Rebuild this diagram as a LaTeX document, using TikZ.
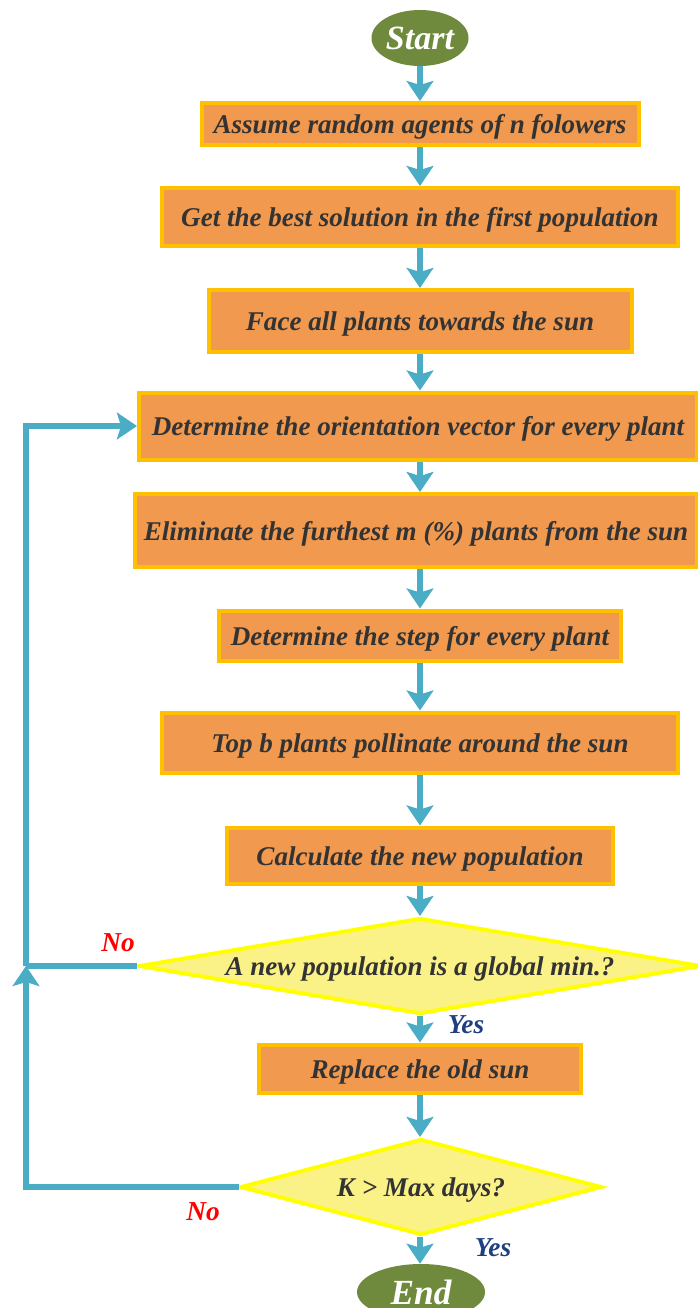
\documentclass[tikz,border=0pt]{standalone}
\usepackage{fontspec}
\setmainfont{Liberation Serif}
\usetikzlibrary{shapes.geometric,arrows.meta}
\definecolor{boxfill}{HTML}{F0994F}
\definecolor{boxline}{HTML}{FFC000}
\definecolor{dfill}{HTML}{FBF287}
\definecolor{dline}{HTML}{FFFF00}
\definecolor{arr}{HTML}{4BACC6}
\definecolor{olive}{HTML}{6F8A3C}
\definecolor{txt}{HTML}{333333}
\definecolor{yesc}{HTML}{1F3F7F}
\tikzset{
  px/.style={x=0.75pt,y=-0.75pt},
  procbox/.style={rectangle, fill=boxfill, draw=boxline, line width=3pt, inner sep=0pt,
    text height=17.5pt, text depth=3pt,
    text=txt, font=\bfseries\itshape\fontsize{20.3}{23}\selectfont},
  decbox/.style={diamond, fill=dfill, draw=dline, line width=3pt, inner sep=0pt,
    text height=17.5pt, text depth=3pt,
    text=txt, font=\bfseries\itshape\fontsize{20.3}{23}\selectfont},
  term/.style={ellipse, fill=olive, draw=none, inner sep=0pt, text=white},
  flow/.style={draw=arr, line width=4.5pt, -{Stealth[length=15pt,width=20pt,inset=3pt]}},
  loopline/.style={draw=arr, line width=3.8pt},
  nolab/.style={text=red, font=\bfseries\itshape\fontsize{20.5}{23}\selectfont},
  yeslab/.style={text=yesc, font=\bfseries\itshape\fontsize{20.5}{23}\selectfont}
}
\begin{document}
\begin{tikzpicture}[px]
\useasboundingbox (0,0) rectangle (697,1308);
\node[term, minimum width=72.75pt, minimum height=42pt, font=\bfseries\itshape\fontsize{25.5}{28}\selectfont] (start) at (420,38) {Start};
\node[procbox, minimum width=327.75pt, minimum height=31.5pt] (b1) at (420,124) {Assume random agents of n folowers};
\node[procbox, minimum width=387pt, minimum height=43.5pt] (b2) at (420,217) {Get the best solution in the first population};
\node[procbox, minimum width=317.25pt, minimum height=46.5pt] (b3) at (420,321) {Face all plants towards the sun};
\node[procbox, minimum width=418.5pt, minimum height=50.25pt] (b4) at (418,426) {Determine the orientation vector for every plant};
\node[procbox, minimum width=421.5pt, minimum height=54.75pt] (b5) at (416,530.5) {Eliminate the furthest m (\%) plants from the sun};
\node[procbox, minimum width=301.5pt, minimum height=37.5pt] (b6) at (420,635.5) {Determine the step for every plant};
\node[procbox, minimum width=387pt, minimum height=45pt] (b7) at (420,742.5) {Top b plants pollinate around the sun};
\node[procbox, minimum width=289.5pt, minimum height=42pt] (b8) at (420,855.5) {Calculate the new population};
\node[decbox, aspect=5.85, minimum width=421.5pt, minimum height=72pt] (d1) at (420,966) {A new population is a global min.?};
\node[procbox, minimum width=241.5pt, minimum height=36pt] (b9) at (420,1068.5) {Replace the old sun};
\node[decbox, aspect=3.76, minimum width=270.75pt, minimum height=72pt] (d2) at (421,1187) {K > Max days?};
\node[term, minimum width=96pt, minimum height=42pt, font=\bfseries\itshape\fontsize{26.5}{30}\selectfont] (end) at (421,1292) {End};
\coordinate (lj) at (26,966);
\draw[flow] (start.south) -- (b1.north);
\draw[flow] (b1.south) -- (b2.north);
\draw[flow] (b2.south) -- (b3.north);
\draw[flow] (b3.south) -- (b3.south |- b4.north);
\draw[flow] (b3.south |- b4.south) -- (b3.south |- b5.north);
\draw[flow] (b3.south |- b5.south) -- (b6.north);
\draw[flow] (b6.south) -- (b7.north);
\draw[flow] (b7.south) -- (b8.north);
\draw[flow] (b8.south) -- (d1.north);
\draw[flow] (d1.south) -- (b9.north);
\draw[flow] (b9.south) -- (b9.south |- d2.north);
\draw[flow] (b9.south |- d2.south) -- (b9.south |- end.north);
\draw[loopline] (d1.west) -- (lj);
\draw[loopline, -{Stealth[length=15pt,width=20pt,inset=3pt]}] (lj) |- (b4.west);
\draw[loopline, -{Stealth[length=15pt,width=20pt,inset=3pt]}] (d2.west) -| (lj);
\node[nolab] (no1) at (118,943) {No};
\node[yeslab] (yes1) at (466,1025) {Yes};
\node[nolab] (no2) at (203,1212) {No};
\node[yeslab] (yes2) at (493,1248) {Yes};
\end{tikzpicture}
\end{document}
